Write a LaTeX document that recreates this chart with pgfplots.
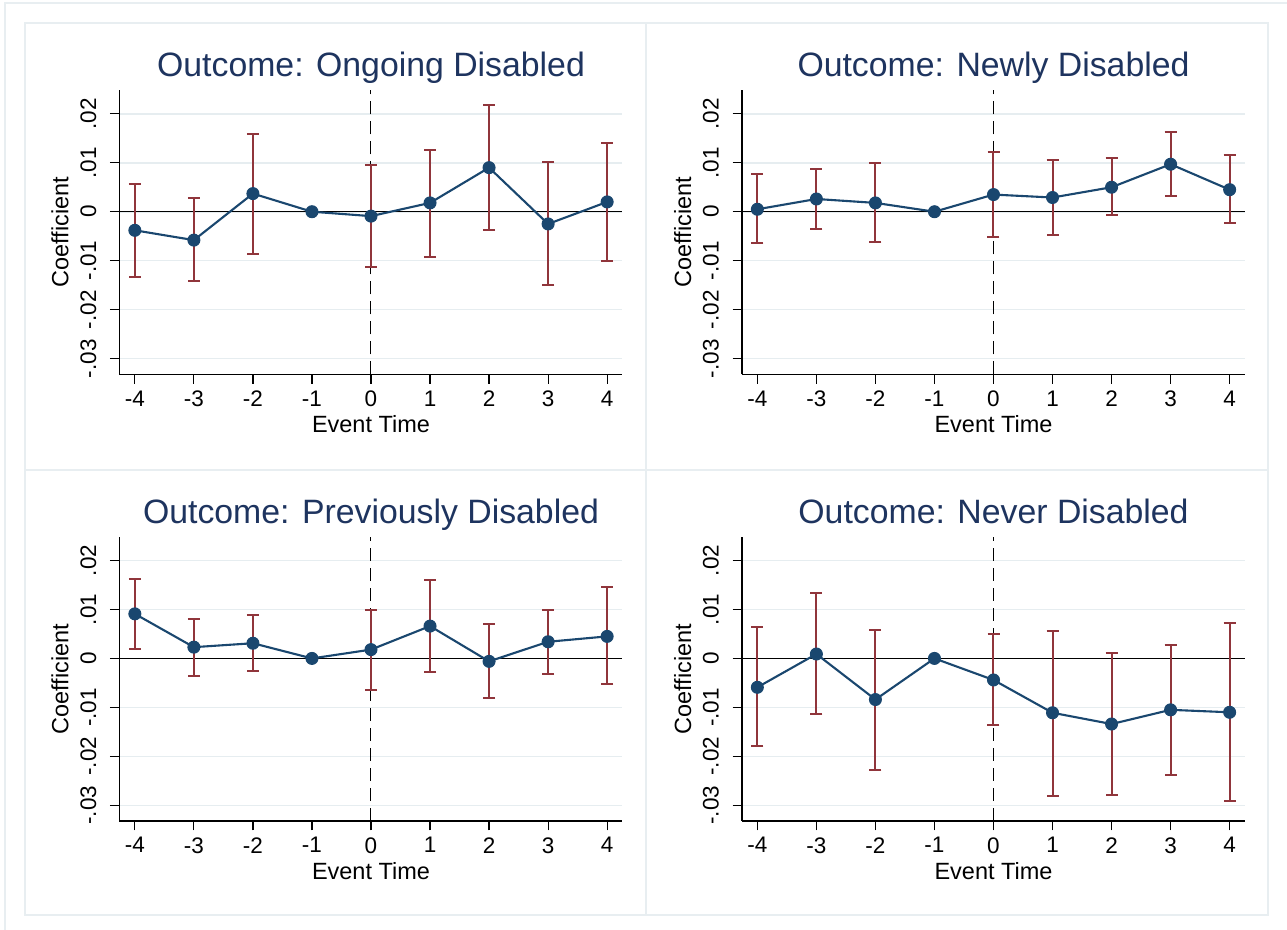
\documentclass[border=0pt]{standalone}
\usepackage{pgfplots}
\usepackage{pgfplotstable}
\pgfplotsset{compat=1.18}
\usepackage{fontspec}
\setmainfont{Liberation Sans}

\definecolor{statanavy}{RGB}{26,71,111}
\definecolor{statamaroon}{RGB}{144,53,59}
\definecolor{titlenavy}{RGB}{30,52,95}
\definecolor{gridc}{RGB}{230,237,240}
\definecolor{framec}{RGB}{232,238,241}

% Event-study estimates: t = event time, b = coefficient, lo/hi = 95% CI
\pgfplotstableread{
t   b        lo       hi
-4 -0.0038  -0.0133   0.0057
-3 -0.0058  -0.0142   0.0027
-2  0.0037  -0.0086   0.0159
-1  0        0        0
 0 -0.0009  -0.0112   0.0095
 1  0.0018  -0.0093   0.0127
 2  0.0090  -0.0037   0.0218
 3 -0.0025  -0.0150   0.0101
 4  0.0020  -0.0100   0.0141
}\ongoing

\pgfplotstableread{
t   b        lo       hi
-4  0.0005  -0.0064   0.0077
-3  0.0026  -0.0035   0.0087
-2  0.0018  -0.0062   0.0099
-1  0        0        0
 0  0.0035  -0.0052   0.0122
 1  0.0029  -0.0048   0.0105
 2  0.0050  -0.0007   0.0110
 3  0.0097   0.0033   0.0163
 4  0.0045  -0.0024   0.0116
}\newly

\pgfplotstableread{
t   b        lo       hi
-4  0.0091   0.0019   0.0163
-3  0.0023  -0.0036   0.0081
-2  0.0031  -0.0026   0.0088
-1  0        0        0
 0  0.0018  -0.0064   0.0099
 1  0.0066  -0.0028   0.0161
 2 -0.0006  -0.0081   0.0070
 3  0.0034  -0.0032   0.0099
 4  0.0045  -0.0052   0.0145
}\previously

\pgfplotstableread{
t   b        lo       hi
-4 -0.0059  -0.0179   0.0064
-3  0.0009  -0.0114   0.0133
-2 -0.0084  -0.0228   0.0059
-1  0        0        0
 0 -0.0044  -0.0136   0.0050
 1 -0.0111  -0.0280   0.0057
 2 -0.0134  -0.0278   0.0012
 3 -0.0105  -0.0238   0.0028
 4 -0.0110  -0.0292   0.0072
}\never

\pgfplotsset{
  panel/.style={
    scale only axis, width=251.5pt, height=142pt,
    xmin=-4.26, xmax=4.26, ymin=-0.0332, ymax=0.0248,
    axis lines*=left, axis line style={-, black, line width=0.6pt},
    tick align=outside, major tick length=4.75pt,
    tick style={black, line width=0.6pt},
    xtick={-4,-3,-2,-1,0,1,2,3,4},
    xticklabels={-4,-3,-2,-1,0,1,2,3,4},
    ytick={-0.03,-0.02,-0.01,0,0.01,0.02},
    yticklabels={-.03,-.02,-.01,0,.01,.02},
    scaled y ticks=false,
    ymajorgrids, grid style={gridc, line width=0.8pt},
    tick label style={font=\fontsize{11.25pt}{13pt}\selectfont, black},
    xticklabel style={anchor=north, inner sep=0pt, yshift=-3.25pt},
    % rotated labels: a positive yshift moves them to the left
    yticklabel style={rotate=90, anchor=base, inner sep=0pt, yshift=7pt},
    label style={font=\fontsize{11.75pt}{14pt}\selectfont, black, inner sep=0pt},
    xlabel={Event Time},
    ylabel={Coefficient},
    xlabel style={at={(axis description cs:0.5,-0.2065)}, anchor=base},
    ylabel style={at={(axis description cs:-0.1014,0.5)}, anchor=base},
    every axis title/.style={at={(axis description cs:0.5,1.0475)}, anchor=base,
                 font=\fontsize{16.9pt}{20pt}\selectfont, text=titlenavy, inner sep=0pt},
  },
  ci/.style={draw=none, mark=none, forget plot,
    error bars/.cd, y dir=both, y explicit,
    error bar style={draw=statamaroon, line width=1pt, solid},
    error mark options={rotate=90, draw=statamaroon, line width=1pt, mark size=3pt}},
}

% reference lines, confidence intervals and point estimates of one panel
\newcommand{\eventplot}[1]{%
  \draw[black, line width=0.65pt] (axis cs:-4.26,0) -- (axis cs:4.26,0);
  \draw[black, line width=0.5pt, dash pattern=on 6.5pt off 3.5pt]
       (axis cs:0,-0.0332) -- (axis cs:0,0.0248);
  \addplot[ci]
    table[x=t, y=b, y error plus expr=\thisrow{hi}-\thisrow{b},
          y error minus expr=\thisrow{b}-\thisrow{lo}] {#1};
  \addplot[statanavy, line width=1.05pt, mark=*, mark size=3pt,
    mark options={fill=statanavy, draw=statanavy, line width=0.5pt}]
    table[x=t, y=b] {#1};
  % the reference period has a zero-width interval, whose cap sits on the marker
  \addplot[restrict x to domain=-1.5:-0.5, ci]
    table[x=t, y=b, y error plus expr=\thisrow{hi}-\thisrow{b},
          y error minus expr=\thisrow{b}-\thisrow{lo}] {#1};
}

\begin{document}
\begin{tikzpicture}
\useasboundingbox[fill=white] (0,0) rectangle (643.5pt,465pt);

% outer frame and panel frames
\draw[framec, line width=0.75pt] (2.5pt,-5pt) -- (2.5pt,463.5pt) -- (650pt,463.5pt);
\draw[framec, line width=0.75pt] (12.5pt,7.5pt) rectangle (634pt,453.5pt);
\draw[framec, line width=0.75pt] (323pt,7.5pt) -- (323pt,453.5pt);
\draw[framec, line width=0.75pt] (12.5pt,230pt) -- (634pt,230pt);

\begin{axis}[panel, at={(59.75pt,277.85pt)}, anchor=south west,
  title={Outcome: Ongoing Disabled}]
  \eventplot{\ongoing}
\end{axis}

\begin{axis}[panel, at={(371pt,277.85pt)}, anchor=south west,
  title={Outcome: Newly Disabled}]
  \eventplot{\newly}
\end{axis}

\begin{axis}[panel, at={(59.75pt,54.5pt)}, anchor=south west,
  title={Outcome: Previously Disabled}]
  \eventplot{\previously}
\end{axis}

\begin{axis}[panel, at={(371pt,54.5pt)}, anchor=south west,
  title={Outcome: Never Disabled}]
  \eventplot{\never}
\end{axis}
\end{tikzpicture}
\end{document}
